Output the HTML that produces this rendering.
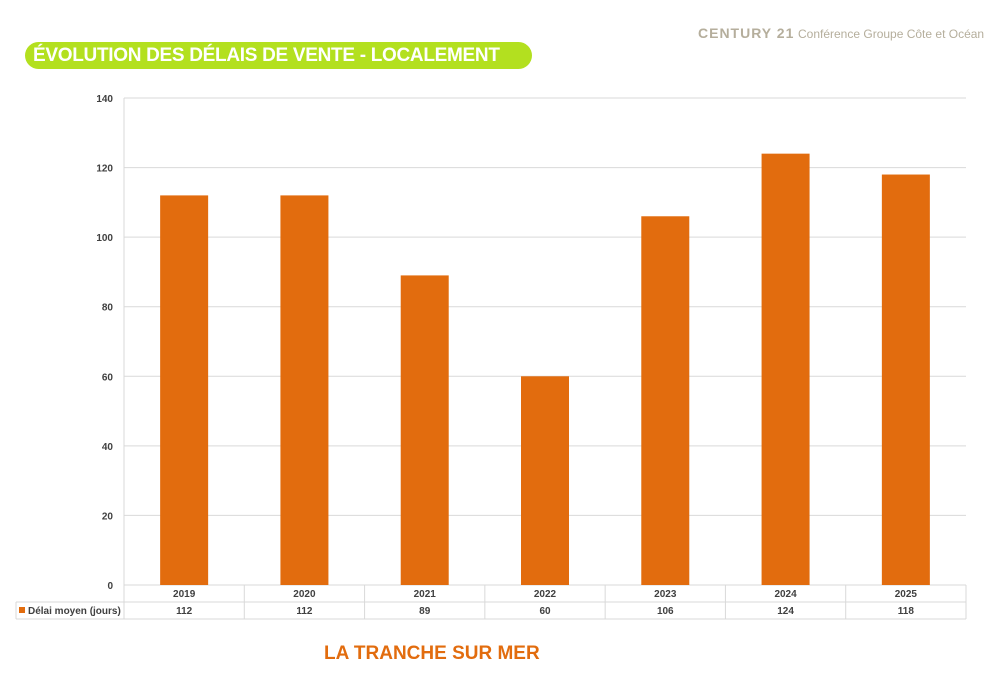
<!DOCTYPE html>
<html><head><meta charset="utf-8"><style>
body{margin:0;width:1000px;height:678px;background:#fff;font-family:"Liberation Sans",sans-serif;position:relative;overflow:hidden}
.t{position:absolute}
</style></head><body>
<div class="t" style="left:698px;top:25px;font-size:13px;color:#b5ae9c;white-space:nowrap"><b style="letter-spacing:1px;font-size:14px">CENTURY 21</b> <span style="font-size:12px">Conférence Groupe Côte et Océan</span></div>
<div class="t" style="left:25px;top:42px;width:507px;height:27px;border-radius:14px;background:#b3e01f;color:#fff;font-weight:bold;font-size:19px;line-height:27px;text-indent:8px;white-space:nowrap;letter-spacing:-0.3px">ÉVOLUTION DES DÉLAIS DE VENTE - LOCALEMENT</div>
<svg class="t" style="left:0;top:0" width="1000" height="678">
<g id="g"></g></svg>
<div class="t" style="left:324px;top:643px;font-size:19px;font-weight:bold;color:#e26c0e">LA TRANCHE SUR MER</div>
<script>
const categories=["2019","2020","2021","2022","2023","2024","2025"];
const values=[112,112,89,60,106,124,118];
const yTicks=[0,20,40,60,80,100,120,140];
const seriesName="Délai moyen (jours)";
const X0=124,X1=966,Y0=585,Y1=98,MAX=140;
const bw=(X1-X0)/categories.length;
const y=v=>Y0-(v/MAX)*(Y0-Y1);
const xc=i=>X0+bw*(i+0.5);
const g=document.getElementById('g');const NS="http://www.w3.org/2000/svg";
function mk(t,a,txt){const e=document.createElementNS(NS,t);for(const k in a)e.setAttribute(k,a[k]);if(txt!=null)e.textContent=txt;g.appendChild(e);return e;}
yTicks.forEach(v=>{
const l=mk('line',{x1:X0,x2:X1,y1:y(v),y2:y(v),stroke:'#d9d9d9','stroke-width':1});


const t=mk('text',{x:113,y:y(v)+4,'text-anchor':'end','font-size':10,'font-weight':'bold',fill:'#404040'},v);


});
mk('line',{x1:X0,x2:X0,y1:Y1,y2:619,stroke:'#d9d9d9'});
values.forEach((v,i)=>{
const r=mk('rect',{x:xc(i)-24,y:y(v),width:48,height:Y0-y(v),fill:'#e26c0e'});


const c=mk('text',{x:xc(i),y:597,'text-anchor':'middle','font-size':10,'font-weight':'bold',fill:'#404040'},categories[i]);


const d=mk('text',{x:xc(i),y:614,'text-anchor':'middle','font-size':10,'font-weight':'bold',fill:'#404040'},v);


mk('line',{x1:X0+bw*(i+1),x2:X0+bw*(i+1),y1:Y0,y2:619,stroke:'#d9d9d9'});
});
mk('line',{x1:16,x2:X1,y1:602,y2:602,stroke:'#d9d9d9'});
mk('line',{x1:16,x2:X1,y1:619,y2:619,stroke:'#d9d9d9'});
mk('line',{x1:16,x2:16,y1:602,y2:619,stroke:'#d9d9d9'});
const lk=mk('rect',{x:19,y:607,width:6,height:6,fill:'#e26c0e'});


const lt=mk('text',{x:28,y:614,'font-size':10,'font-weight':'bold',fill:'#404040'},seriesName);


</script>
</body></html>
